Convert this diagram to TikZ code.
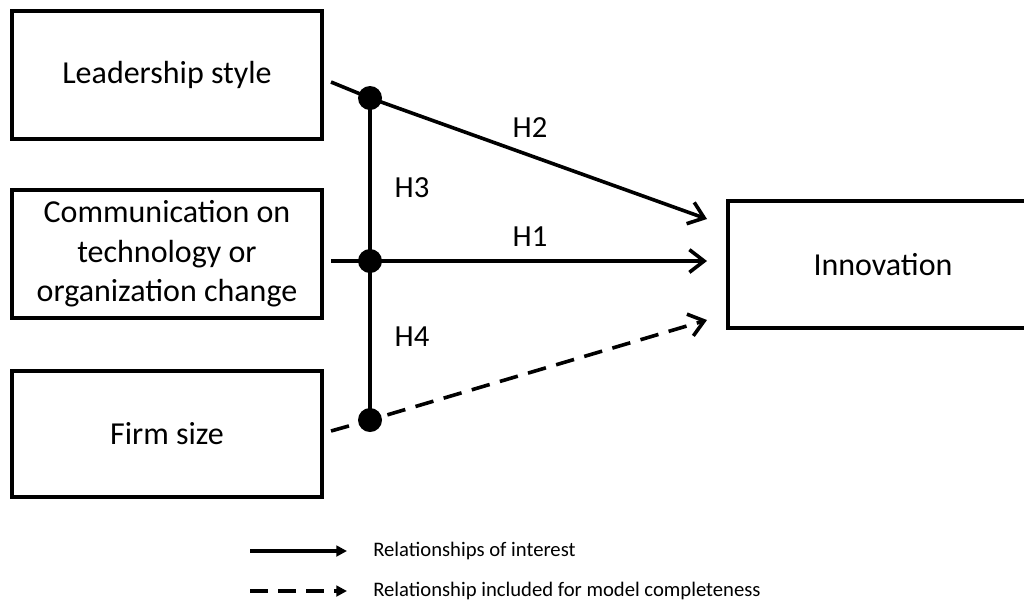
\documentclass[tikz,border=0pt]{standalone}
\usepackage{fontspec}
\setmainfont{Carlito}
\usetikzlibrary{arrows.meta}
\begin{document}
\begin{tikzpicture}[x=0.75pt,y=-0.75pt,
  box/.style={draw,line width=2.7pt,minimum width=232.5pt,minimum height=96pt,inner sep=0pt,align=center,font=\fontsize{24}{29.5}\selectfont},
  dotnode/.style={circle,fill=black,minimum size=18pt,inner sep=0pt},
  arr/.style={line width=2.7pt,-{Straight Barb[length=11pt,width=17pt,line width=2.7pt]}},
  dasharr/.style={arr,dash pattern=on 14pt off 8pt},
  conn/.style={line width=2.9pt},
  lbl/.style={font=\fontsize{23}{26}\selectfont},
  legarr/.style={line width=2.6pt,-{Triangle[length=8pt,width=8pt]}},
  legtext/.style={anchor=west,font=\fontsize{15.5}{18}\selectfont,inner sep=0pt}]
\useasboundingbox (0,0) rectangle (1024,601);
\fill[white] (0,0) rectangle (1024,601);
% boxes
\node[box] (lead) at (167,75) {Leadership style};
\node[box] (comm) at (167,254) {Communication on\\technology or\\organization change};
\node[box,minimum height=94.5pt] (firm) at (167,434) {Firm size};
\node[box,minimum height=95pt] (inn) at (883,264.5) {Innovation};
% points
\coordinate (s1) at (331,82);
\coordinate (s2) at (331,261);
\coordinate (s3) at (331,431);
\coordinate (e1) at (707,219);
\coordinate (e2) at (707,261);
\coordinate (e3) at (707,320);
\node[dotnode] (d1) at (370,98) {};
\node[dotnode] (d2) at (370,261) {};
\node[dotnode] (d3) at (370,420) {};
% connectors
\draw[conn] (d1.center) -- (d3.center);
\draw[arr] (s1) -- (d1.center) -- (e1);
\draw[arr] (s2) -- (d2.center) -- (e2);
\draw[dasharr] (s3) -- (d3.center) -- (e3);
% labels
\node[lbl] (h2) at (530,128) {H2};
\node[lbl] (h3) at (412,188) {H3};
\node[lbl] (h1) at (530,237) {H1};
\node[lbl] (h4) at (412,337) {H4};
% legend
\coordinate (la1) at (250,551);
\coordinate (lb1) at (347,551);
\coordinate (la2) at (250,591);
\coordinate (lb2) at (347,591);
\draw[legarr] (la1) -- (lb1);
\draw[legarr,dash pattern=on 13.5pt off 7.5pt] (la2) -- (lb2);
\node[legtext] (t1) at (373,551) {Relationships of interest};
\node[legtext] (t2) at (373,591) {Relationship included for model completeness};
\end{tikzpicture}
\end{document}
